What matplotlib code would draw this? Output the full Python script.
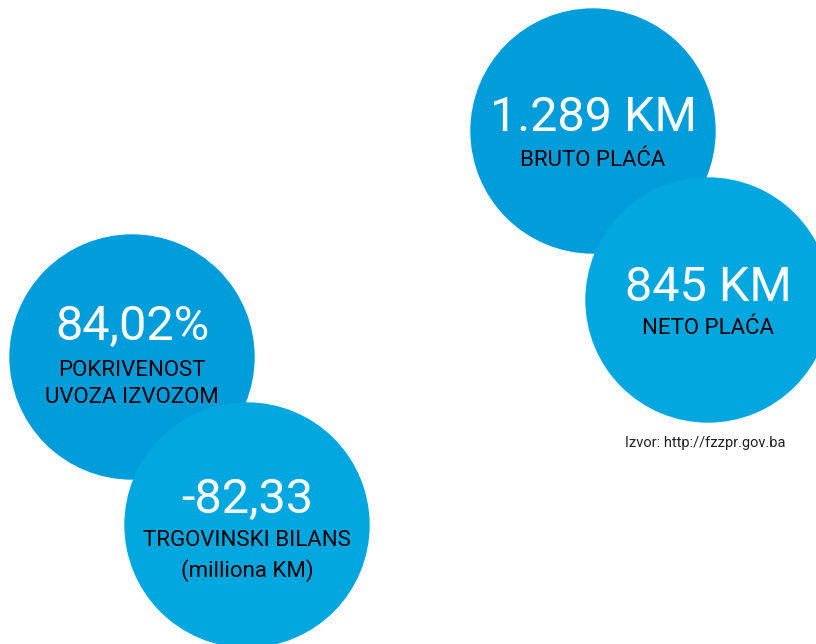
import matplotlib
matplotlib.use("Agg")
import matplotlib.pyplot as plt
from matplotlib.patches import Circle

# values shown in the bubbles
values = ["1.289 KM", "845 KM", "84,02%", "-82,33"]
labels = ["BRUTO PLAĆA", "NETO PLAĆA", "POKRIVENOST\nUVOZA IZVOZOM", "TRGOVINSKI BILANS\n(milliona KM)"]
source = "Izvor: http://fzzpr.gov.ba"

# layout (pixels): centre x, centre y, value y, label y
pos = [(593, 131, 118, 160), (708, 300, 288, 328), (132, 357, 327, 384), (247, 525, 500, 556)]
colors = ["#019ddb", "#02a7e0", "#019ddb", "#02a7e0"]
edges = [False, True, False, True]
R = 122

fig = plt.figure(figsize=(8.16, 6.44), dpi=100)
ax = fig.add_axes([0, 0, 1, 1])
ax.set_xlim(0, 816)
ax.set_ylim(644, 0)
ax.set_aspect("equal")
ax.axis("off")

for (cx, cy, vy, ly), v, lab, c, e in zip(pos, values, labels, colors, edges):
    if e:
        ax.add_patch(Circle((cx, cy), R + 1.5, color="white", zorder=2))
    ax.add_patch(Circle((cx, cy), R, color=c, zorder=3))
    ax.text(cx, vy, v, ha="center", va="center", fontsize=35, color="white",
            family="Roboto", zorder=4)
    ax.text(cx, ly, lab, ha="center", va="center", fontsize=16, color="black",
            family="Roboto", linespacing=1.4, zorder=4)

ax.text(705, 443, source, ha="center", va="center", fontsize=10.5, color="#222222",
        family="Roboto")

fig.savefig("out.png", dpi=100)
